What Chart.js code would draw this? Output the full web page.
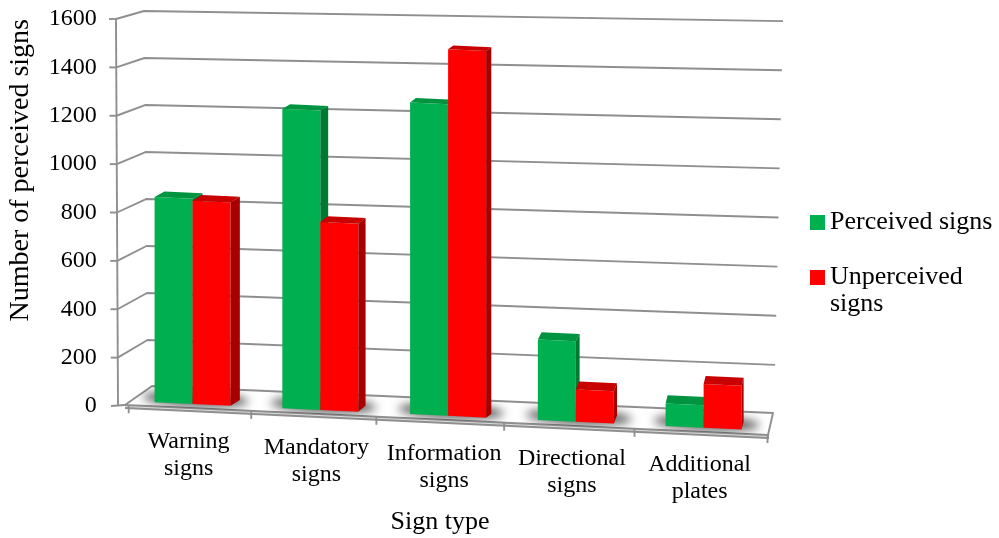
<!DOCTYPE html>
<html>
<head>
<meta charset="utf-8">
<title>Perceived and unperceived signs by sign type</title>
<script src="https://cdn.jsdelivr.net/npm/chart.js@4.4.1/dist/chart.umd.min.js"></script>
<style>
  html, body { margin: 0; padding: 0; background: #ffffff; }
  #wrap { width: 999px; height: 538px; }
</style>
</head>
<body>
<div id="wrap"><canvas id="chart" width="999" height="538"></canvas></div>
<script>
// ---- data ----
const categories = [
  ['Warning', 'signs'],
  ['Mandatory', 'signs'],
  ['Information', 'signs'],
  ['Directional', 'signs'],
  ['Additional', 'plates']
];
const perceived = [850, 1230, 1270, 325, 90];
const unperceived = [840, 770, 1490, 130, 175];
const yTicks = [0, 200, 400, 600, 800, 1000, 1200, 1400, 1600];
const seriesNames = ['Perceived signs', 'Unperceived signs'];
const xTitle = 'Sign type';
const yTitle = 'Number of perceived signs';

// ---- styling ----
const SERIF = '"Liberation Serif", "Times New Roman", Times, serif';
const GRID = '#8f8f8f';
const palette = [
  { front: '#00B050', top: '#009440', side: '#007A33' },
  { front: '#FF0000', top: '#C80000', side: '#A80000' }
];

// perspective frame of the 3-D box (walls, floor, bar depth)
const view = {
  wallTopX: 116, wallBotX: 118, tickLen: 7,
  backL: { x: 144, base: 387, k: 0.9715 },
  backR: { x: 774, base: 414, k: 1.0153, lean: 9 },
  floor: { fl: [125, 405], bl: [152, 386], br: [773, 413], fr: [768, 435] },
  barBase0: 402, barBaseX0: 150, skew: 0.0465,
  depthScale0: 0.9963, depthScaleSlope: 0.0000661
};

function poly(ctx, pts, fill, stroke) {
  ctx.beginPath();
  ctx.moveTo(pts[0][0], pts[0][1]);
  for (let i = 1; i < pts.length; i++) ctx.lineTo(pts[i][0], pts[i][1]);
  ctx.closePath();
  if (fill) { ctx.fillStyle = fill; ctx.fill(); }
  if (stroke) { ctx.strokeStyle = stroke; ctx.stroke(); }
}
function seg(ctx, pts) {
  ctx.beginPath();
  ctx.moveTo(pts[0][0], pts[0][1]);
  for (let i = 1; i < pts.length; i++) ctx.lineTo(pts[i][0], pts[i][1]);
  ctx.stroke();
}
function floorFrontY(x) {
  const f = view.floor;
  return f.fl[1] + (x - f.fl[0]) * (f.fr[1] - f.fl[1]) / (f.fr[0] - f.fl[0]);
}
// frame for a bar standing at centre x
function barFrame(xc, Y0) {
  return {
    xc, Y0,
    B: view.barBase0 + view.skew * (xc - view.barBaseX0),
    f: view.depthScale0 + view.depthScaleSlope * (xc - view.barBaseX0),
    b: view.skew
  };
}
function proj(fr, x, y) {
  return [x, fr.B + (y - fr.Y0) * fr.f + fr.b * (x - fr.xc)];
}
// category boundaries drift with perspective
function perspX(x, left, right) {
  return x - 0.00008 * (x - left) * (right - x);
}

const scene3d = {
  id: 'scene3d',
  beforeDraw(chart) {
    const ctx = chart.ctx;
    ctx.save();
    ctx.fillStyle = '#ffffff';
    ctx.fillRect(0, 0, chart.width, chart.height);
    ctx.restore();
  },
  beforeDatasetsDraw(chart) {
    const ctx = chart.ctx;
    const ys = chart.scales.y, xs = chart.scales.x;
    const Y0 = ys.getPixelForValue(0);
    const Ytop = ys.getPixelForValue(yTicks[yTicks.length - 1]);
    const span = Y0 - Ytop;

    // side wall and back wall grid
    ctx.save();
    ctx.strokeStyle = GRID;
    ctx.lineWidth = 1.9;
    ctx.lineJoin = 'round';
    ctx.lineCap = 'butt';
    seg(ctx, [[view.wallTopX, Ytop], [view.wallBotX, Y0 - 1]]);
    yTicks.forEach(v => {
      const p = ys.getPixelForValue(v);
      const d = Y0 - p, t = d / span;
      const wx = view.wallBotX + (view.wallTopX - view.wallBotX) * t;
      if (v === 0) {
        seg(ctx, [[wx - view.tickLen, p], view.floor.fl]);
        return;
      }
      seg(ctx, [[wx - view.tickLen, p], [wx, p]]);
      const bl = [view.backL.x + 4 * (1 - t), view.backL.base - d * view.backL.k];
      const br = [view.backR.x + view.backR.lean * t, view.backR.base - d * view.backR.k];
      seg(ctx, [[wx, p], bl, br]);
    });

    // floor slab
    const F = view.floor;
    poly(ctx, [F.fl, F.fr, [F.fr[0], F.fr[1] + 3], [F.fl[0], F.fl[1] + 3]], '#dcdcdc', null);
    poly(ctx, [F.fl, F.bl, F.br, F.fr], '#ffffff', GRID);
    seg(ctx, [[F.fl[0], F.fl[1] + 3], [F.fr[0], F.fr[1] + 3]]);
    seg(ctx, [F.fr, [F.fr[0], F.fr[1] + 4]]);

    // category separators on the floor's front edge
    const n = categories.length;
    const w = xs.getPixelForValue(1) - xs.getPixelForValue(0);
    const left = xs.getPixelForValue(0) - w / 2, right = xs.getPixelForValue(n - 1) + w / 2;
    for (let i = 0; i <= n; i++) {
      const bx = Math.max(F.fl[0] + 1, perspX(left + i * w, left, right));
      const by = floorFrontY(bx);
      seg(ctx, [[bx, by], [bx, by + 8]]);
    }
    ctx.restore();

    const metas = [chart.getDatasetMeta(0), chart.getDatasetMeta(1)];

    // soft shadows cast on the floor
    ctx.save();
    ctx.beginPath();
    ctx.moveTo(F.fl[0], F.fl[1]); ctx.lineTo(F.bl[0], F.bl[1]);
    ctx.lineTo(F.br[0], F.br[1]); ctx.lineTo(F.fr[0], F.fr[1]);
    ctx.closePath();
    ctx.clip();
    ctx.filter = 'blur(5px)';
    ctx.fillStyle = 'rgba(0,0,0,0.6)';
    for (let i = 0; i < n; i++) {
      const g = metas[0].data[i], r = metas[1].data[i];
      const xl = g.x - g.width / 2, xr = r.x + r.width / 2;
      const cx = (xl + xr) / 2 + 3;
      const fr = barFrame(cx, Y0);
      ctx.beginPath();
      ctx.ellipse(cx, fr.B - 5, (xr - xl) / 2 + 15, 8, view.skew, 0, Math.PI * 2);
      ctx.fill();
    }
    ctx.restore();

    // bars: front face by the bar element, top and side faces around it
    for (let i = 0; i < n; i++) {
      for (let d = 0; d < 2; d++) {
        const el = metas[d].data[i];
        const pal = palette[d];
        const fr = barFrame(el.x, Y0);
        ctx.save();
        ctx.transform(1, fr.b, 0, fr.f, 0, fr.B - fr.f * Y0 - fr.b * el.x);
        el.draw(ctx);
        ctx.restore();
        const xl = el.x - el.width / 2, xr = el.x + el.width / 2;
        const ftl = proj(fr, xl, el.y), ftr = proj(fr, xr, el.y), fbr = proj(fr, xr, Y0);
        const dx = Math.max(2, 0.016 * (810 - xr));
        const dy = 3 + 0.013 * ftr[1];
        poly(ctx, [ftl, ftr, [ftr[0] + dx, ftr[1] - dy], [ftl[0] + dx, ftl[1] - dy]], pal.top);
        poly(ctx, [ftr, [ftr[0] + dx, ftr[1] - dy], [fbr[0] + dx, fbr[1] - dy], fbr], pal.side);
      }
    }
    return false;
  },
  afterDraw(chart) {
    const ctx = chart.ctx;
    const xs = chart.scales.x;
    ctx.save();
    ctx.fillStyle = '#000000';

    // category labels, receding along the floor
    ctx.font = '24px ' + SERIF;
    ctx.textAlign = 'center';
    ctx.textBaseline = 'alphabetic';
    categories.forEach((lines, i) => {
      const cx = xs.getPixelForValue(i) - 4;
      const base = 448 + 5.8 * i;
      lines.forEach((t, j) => ctx.fillText(t, cx, base + j * 27));
    });

    // x-axis title
    ctx.font = '26px ' + SERIF;
    ctx.fillText(xTitle, 440, 529);

    // legend
    ctx.textAlign = 'left';
    ctx.font = '26px ' + SERIF;
    const maxW = chart.width - 830 - 2;
    seriesNames.forEach((name, i) => {
      const base = 229 + i * 55;
      ctx.fillStyle = palette[i].front;
      ctx.fillRect(810, base - 14, 15, 15);
      ctx.fillStyle = '#000000';
      const words = name.split(' ');
      const lines = [];
      let cur = '';
      words.forEach(wd => {
        const test = cur ? cur + ' ' + wd : wd;
        if (cur && ctx.measureText(test).width > maxW) { lines.push(cur); cur = wd; }
        else cur = test;
      });
      lines.push(cur);
      lines.forEach((t, j) => ctx.fillText(t, 830, base + j * 27));
    });
    ctx.restore();
  }
};

new Chart(document.getElementById('chart'), {
  type: 'bar',
  data: {
    labels: categories.map(c => c.join(' ')),
    datasets: [
      { label: seriesNames[0], data: perceived, backgroundColor: palette[0].front },
      { label: seriesNames[1], data: unperceived, backgroundColor: palette[1].front }
    ]
  },
  options: {
    responsive: false,
    animation: false,
    events: [],
    layout: { padding: { left: 0, top: 19, right: 231.5, bottom: 132 } },
    datasets: { bar: { barPercentage: 1, categoryPercentage: 0.595, borderWidth: 0 } },
    plugins: { legend: { display: false }, tooltip: { enabled: false } },
    scales: {
      x: { display: false },
      y: {
        min: 0, max: 1600,
        afterBuildTicks(scale) { scale.ticks = yTicks.map(v => ({ value: v })); },
        afterFit(scale) {
          scale.width = 128.7;
          scale.paddingTop = 0;
          scale.paddingBottom = 0;
        },
        grid: { display: false, drawTicks: false },
        border: { display: false },
        ticks: {
          padding: 32,
          color: '#000000',
          font: { family: SERIF, size: 24 },
          callback: v => String(v)
        },
        title: {
          display: true,
          text: yTitle,
          align: 'end',
          color: '#000000',
          font: { family: SERIF, size: 28 },
          padding: { top: 4, bottom: 4 }
        }
      }
    }
  },
  plugins: [scene3d]
});
</script>
</body>
</html>
